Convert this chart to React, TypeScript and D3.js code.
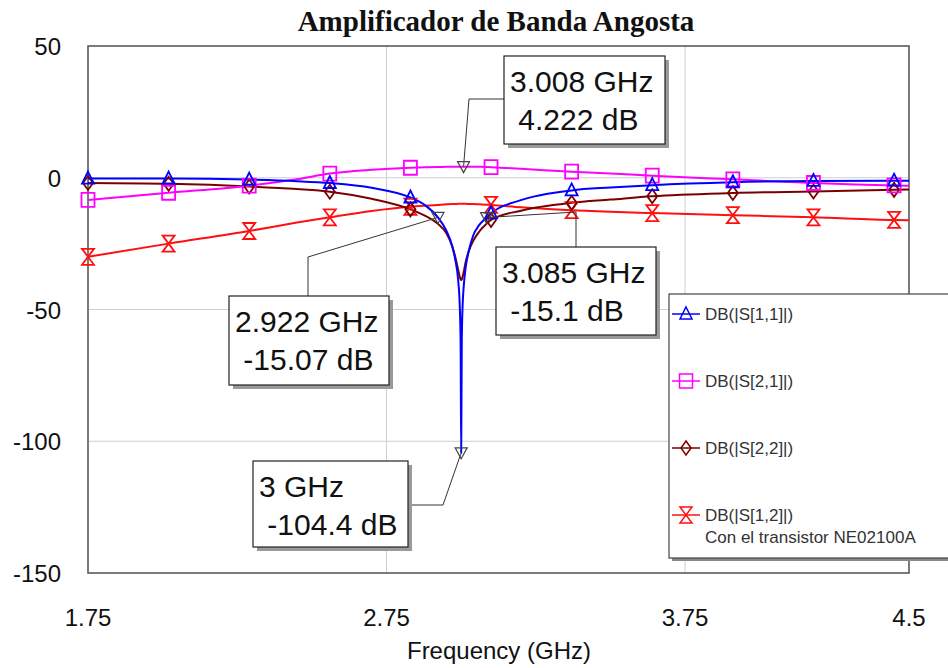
import React from "react";
import * as d3 from "d3";

// Sweep frequencies (GHz), denser around the 3 GHz resonance
const freqGHz = [
  1.75, 2.02, 2.29, 2.45, 2.56, 2.7, 2.83, 2.88, 2.922, 2.95, 2.97, 2.98, 2.99,
  2.995, 2.998, 3.0, 3.002, 3.005, 3.008, 3.015, 3.025, 3.04, 3.06, 3.085, 3.1,
  3.2, 3.37, 3.5, 3.64, 3.91, 4.18, 4.45, 4.5,
];

// DB(|S[1,1]|)
const s11 = [
  -0.3, -0.3, -0.7, -1.3, -2.0, -3.8, -7.5, -10.5, -15.07, -20, -26, -31, -39,
  -48, -62, -104.4, -62, -48, -42, -34, -28, -22, -18, -15.1, -13.5, -8.5,
  -4.8, -3.7, -2.8, -1.7, -1.2, -1.1, -1.1,
];

// DB(|S[2,1]|)
const s21 = [
  -8.4, -5.7, -3.0, -0.6, 1.6, 3.0, 3.8, 4.0, 4.1, 4.15, 4.19, 4.2, 4.21, 4.215,
  4.218, 4.22, 4.221, 4.222, 4.222, 4.22, 4.21, 4.19, 4.15, 4.08, 4.0, 3.4, 2.3,
  1.6, 0.8, -0.6, -2.0, -2.9, -3.0,
];

// DB(|S[2,2]|)
const s22 = [
  -2.0, -2.3, -3.3, -4.3, -5.3, -8, -12, -14.5, -17.5, -21, -26, -30, -35,
  -37.5, -38.5, -38.8, -38.5, -37.5, -36, -32, -28, -24, -20.5, -17.5, -16,
  -12.5, -9.5, -8.3, -7, -5.8, -5.2, -4.6, -4.5,
];

// DB(|S[1,2]|)
const s12 = [
  -30, -25, -20.2, -17, -15, -12.6, -11, -10.6, -10.3, -10.1, -10, -10, -9.9,
  -9.9, -9.9, -9.9, -9.9, -9.9, -9.9, -9.9, -10, -10, -10.1, -10.2, -10.3,
  -11.2, -12.3, -12.9, -13.4, -14.2, -15, -16, -16.1,
];

// Frequencies that carry a series symbol
const markerFreq = [1.75, 2.02, 2.29, 2.56, 2.83, 3.1, 3.37, 3.64, 3.91, 4.18, 4.45];

const xTicks = [1.75, 2.75, 3.75, 4.5];
const xTickLabels = ["1.75", "2.75", "3.75", "4.5"];
const yTicks = [50, 0, -50, -100, -150];
const yGrid = [0, -50, -100];
const xGrid = [2.75, 3.75];

const seriesNames = ["DB(|S[1,1]|)", "DB(|S[2,1]|)", "DB(|S[2,2]|)", "DB(|S[1,2]|)"];
const legendNote = "Con el transistor NE02100A";

// Marker readouts: frequency (GHz), value (dB), text lines
const readoutFreq = [3.008, 2.922, 3.085, 3.0];
const readoutDb = [4.222, -15.07, -15.1, -104.4];
const readoutText = [
  ["3.008 GHz", " 4.222 dB"],
  ["2.922 GHz", " -15.07 dB"],
  ["3.085 GHz", " -15.1 dB"],
  ["3 GHz", " -104.4 dB"],
];

const W = 948;
const H = 668;
const plot = { left: 88, right: 909, top: 46, bottom: 573 };

const x = d3.scaleLinear().domain([1.75, 4.5]).range([plot.left, plot.right]);
const y = d3.scaleLinear().domain([-150, 50]).range([plot.bottom, plot.top]);

type Shape = "tri" | "square" | "diamond" | "hourglass";

function symbolPath(shape: Shape, cx: number, cy: number): string {
  const p = d3.path();
  if (shape === "tri") {
    p.moveTo(cx, cy - 7);
    p.lineTo(cx + 6, cy + 5);
    p.lineTo(cx - 6, cy + 5);
    p.closePath();
  } else if (shape === "square") {
    p.rect(cx - 6.5, cy - 7, 13, 14);
  } else if (shape === "diamond") {
    p.moveTo(cx, cy - 7);
    p.lineTo(cx + 5, cy);
    p.lineTo(cx, cy + 7);
    p.lineTo(cx - 5, cy);
    p.closePath();
  } else {
    p.moveTo(cx - 6, cy - 8);
    p.lineTo(cx + 6, cy - 8);
    p.lineTo(cx - 6, cy + 8);
    p.lineTo(cx + 6, cy + 8);
    p.closePath();
  }
  return p.toString();
}

const series = [
  { name: seriesNames[3], values: s12, color: "#ff1010", shape: "hourglass" as Shape },
  { name: seriesNames[2], values: s22, color: "#7a0000", shape: "diamond" as Shape },
  { name: seriesNames[1], values: s21, color: "#ff00ff", shape: "square" as Shape },
  { name: seriesNames[0], values: s11, color: "#0000ff", shape: "tri" as Shape },
];

const legendOrder = [3, 2, 1, 0];

// Readout box geometry and leader elbows
const readoutLayout = [
  { bx: 504, by: 56, bw: 161, bh: 88, elbow: [469, 99], anchor: [504, 99] },
  { bx: 229, by: 296, bw: 160, bh: 89, elbow: [308, 257], anchor: [308, 296] },
  { bx: 496, by: 247, bw: 160, bh: 88, elbow: [576, 212], anchor: [576, 247] },
  { bx: 253, by: 461, bw: 155, bh: 86, elbow: [443, 505], anchor: [408, 505] },
];

const FONT = "'Liberation Sans', Arial, Helvetica, sans-serif";

export default function App() {
  const line = d3
    .line<number>()
    .x((_, i) => x(freqGHz[i]))
    .y((d) => y(d))
    .curve(d3.curveMonotoneX);

  const downTri = (cx: number, cy: number) =>
    `M${cx - 6},${cy - 5}L${cx + 6},${cy - 5}L${cx},${cy + 6}Z`;

  return (
    <svg width={W} height={H} style={{ position: "absolute", left: 0, top: 0, background: "#fff" }}>
      <rect x={0} y={0} width={W} height={H} fill="#fff" />
      <text
        x={496}
        y={31}
        textAnchor="middle"
        fontFamily="'Liberation Serif', 'Times New Roman', serif"
        fontWeight="bold"
        fontSize={29}
        fill="#111"
      >
        Amplificador de Banda Angosta
      </text>

      {/* grid */}
      {xGrid.map((v) => (
        <line key={"gx" + v} x1={x(v)} x2={x(v)} y1={plot.top} y2={plot.bottom} stroke="#cfcfcf" strokeWidth={1} />
      ))}
      {yGrid.map((v) => (
        <line key={"gy" + v} x1={plot.left} x2={plot.right} y1={y(v)} y2={y(v)} stroke="#cfcfcf" strokeWidth={1} />
      ))}

      {/* frame */}
      <rect
        x={plot.left}
        y={plot.top}
        width={plot.right - plot.left}
        height={plot.bottom - plot.top}
        fill="none"
        stroke="#5a5a5a"
        strokeWidth={1.6}
      />

      {/* axis labels */}
      {yTicks.map((v) => (
        <text key={"yt" + v} x={61} y={y(v) + 9} textAnchor="end" fontFamily={FONT} fontSize={24} fill="#111">
          {v}
        </text>
      ))}
      {xTicks.map((v, i) => (
        <text key={"xt" + v} x={x(v)} y={626} textAnchor="middle" fontFamily={FONT} fontSize={24} fill="#111">
          {xTickLabels[i]}
        </text>
      ))}
      <text x={499} y={659} textAnchor="middle" fontFamily={FONT} fontSize={24} fill="#111">
        Frequency (GHz)
      </text>

      {/* curves */}
      {series.map((s) => (
        <path key={s.name} d={line(s.values) || ""} fill="none" stroke={s.color} strokeWidth={2} />
      ))}
      {series.map((s) =>
        freqGHz.map((f, i) =>
          markerFreq.includes(f) ? (
            <path
              key={s.name + f}
              d={symbolPath(s.shape, x(f), y(s.values[i]))}
              fill="none"
              stroke={s.color}
              strokeWidth={1.8}
            />
          ) : null
        )
      )}

      {/* readouts */}
      {readoutFreq.map((f, i) => {
        const L = readoutLayout[i];
        const px = x(f);
        const py = y(readoutDb[i]);
        return (
          <g key={"ro" + i}>
            <polyline
              points={`${L.anchor[0]},${L.anchor[1]} ${L.elbow[0]},${L.elbow[1]} ${px},${py}`}
              fill="none"
              stroke="#333"
              strokeWidth={1}
            />
            <path d={downTri(px, py)} fill="none" stroke="#444" strokeWidth={1.2} />
            <rect x={L.bx + 4} y={L.by + 4} width={L.bw} height={L.bh} fill="#9a9a9a" />
            <rect x={L.bx} y={L.by} width={L.bw} height={L.bh} fill="#fff" stroke="#222" strokeWidth={1.2} />
            {readoutText[i].map((t, j) => (
              <text
                key={j}
                x={L.bx + 6}
                y={L.by + 36 + j * 38}
                fontFamily={FONT}
                fontSize={30}
                fill="#111"
                style={{ whiteSpace: "pre" }}
              >
                {t}
              </text>
            ))}
          </g>
        );
      })}

      {/* legend */}
      <rect x={672} y={297} width={290} height={264} fill="#888" />
      <rect x={669} y={294} width={290} height={264} fill="#fff" stroke="#444" strokeWidth={1.2} />
      {legendOrder.map((si, k) => {
        const s = series[si];
        const cy = 314 + k * 67;
        return (
          <g key={"lg" + k}>
            <line x1={672} x2={700} y1={cy} y2={cy} stroke={s.color} strokeWidth={1.5} />
            <path d={symbolPath(s.shape, 686, cy)} fill="none" stroke={s.color} strokeWidth={1.5} />
            <text x={705} y={cy + 6} fontFamily={FONT} fontSize={17} fill="#333">
              {s.name}
            </text>
          </g>
        );
      })}
      <text x={705} y={543} fontFamily={FONT} fontSize={17} fill="#333">
        {legendNote}
      </text>
    </svg>
  );
}
